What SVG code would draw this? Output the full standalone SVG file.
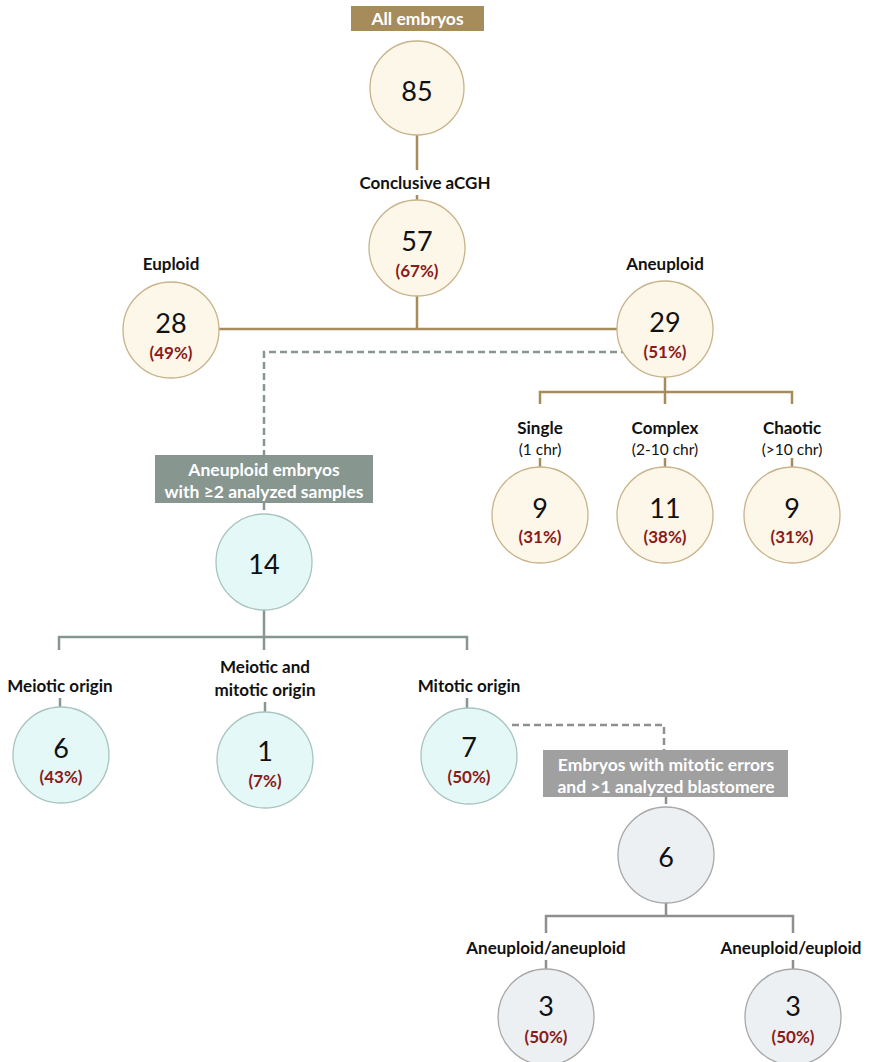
<svg xmlns="http://www.w3.org/2000/svg" width="871" height="1062" viewBox="0 0 871 1062">
<style>
.gold{stroke:#a68c5a;stroke-width:2.5;fill:none}
.teal{stroke:#87968f;stroke-width:2.5;fill:none}
.grey{stroke:#8f8f8f;stroke-width:2.5;fill:none}
.dteal{stroke:#87968f;stroke-width:2.5;fill:none;stroke-dasharray:7 4}
.dgrey{stroke:#8f8f8f;stroke-width:2.5;fill:none;stroke-dasharray:7 4}
.cg{fill:#fdf7ea;stroke:#c8b38b;stroke-width:1.3}
.ct{fill:#e3f8f7;stroke:#a9c4bf;stroke-width:1.3}
.cy{fill:#edf0f3;stroke:#a8a8a8;stroke-width:1.3}
.num{font-family:Lato,"Open Sans",sans-serif;font-size:27px;fill:#111;text-anchor:middle}
.pct{font-family:Lato,"Open Sans",sans-serif;font-size:17px;font-weight:bold;fill:#8b1a1a;text-anchor:middle}
.lbl{font-family:Lato,"Open Sans",sans-serif;font-size:17px;font-weight:bold;fill:#111;text-anchor:middle}
.sub{font-family:Lato,"Open Sans",sans-serif;font-size:15.5px;fill:#111;text-anchor:middle}
.box{font-family:Lato,"Open Sans",sans-serif;font-size:17.5px;font-weight:bold;fill:#fff;text-anchor:middle}
</style>
<g id="connectors">
<line class="gold" x1="417" y1="135" x2="417" y2="170"/>
<line class="gold" x1="417" y1="195" x2="417" y2="201"/>
<path class="gold" d="M417 296 V329 M219 329 H617"/>
<path class="gold" d="M665 377 V392 M540 404 V392 H792 V404 M665 392 V404"/>
<path class="gold" d="M540 458 V467 M665 458 V467 M792 458 V467"/>
<path class="dteal" d="M628 352 H264 V455"/>
<line class="dteal" x1="264" y1="503" x2="264" y2="514"/>
<path class="teal" d="M264 610 V637 M59 650 V637 H467 V650 M264 637 V650"/>
<path class="teal" d="M60 698 V707 M265 702 V712 M467 698 V708"/>
<path class="dgrey" d="M512 725 H664 V750"/>
<line class="dgrey" x1="666" y1="797" x2="666" y2="807"/>
<path class="grey" d="M666 903 V916 M546 933 V916 H793 V933"/>
<path class="grey" d="M546 960 V969 M793 960 V969"/>
</g>
<g id="all-embryos">
<rect x="351" y="6" width="133" height="25" fill="#a68c5a"/>
<text class="box" x="417.5" y="25">All embryos</text>
</g>
<g id="n85">
<circle class="cg" cx="417" cy="88" r="47"/>
<text class="num" x="417" y="101">85</text>
</g>
<g id="conclusive">
<text class="lbl" x="425" y="189">Conclusive aCGH</text>
<circle class="cg" cx="417" cy="248" r="48"/>
<text class="num" x="417" y="251">57</text>
<text class="pct" x="417" y="277">(67%)</text>
</g>
<g id="euploid">
<text class="lbl" x="171" y="270">Euploid</text>
<circle class="cg" cx="171" cy="330" r="48"/>
<text class="num" x="171" y="333">28</text>
<text class="pct" x="171" y="359">(49%)</text>
</g>
<g id="aneuploid">
<text class="lbl" x="665" y="270">Aneuploid</text>
<circle class="cg" cx="665" cy="329" r="48"/>
<text class="num" x="665" y="332">29</text>
<text class="pct" x="665" y="358">(51%)</text>
</g>
<g id="single">
<text class="lbl" x="540" y="434">Single</text>
<text class="sub" x="540" y="455">(1 chr)</text>
<circle class="cg" cx="540" cy="515" r="48"/>
<text class="num" x="540" y="518">9</text>
<text class="pct" x="540" y="543">(31%)</text>
</g>
<g id="complex">
<text class="lbl" x="665" y="434">Complex</text>
<text class="sub" x="665" y="455">(2-10 chr)</text>
<circle class="cg" cx="665" cy="515" r="48"/>
<text class="num" x="665" y="518">11</text>
<text class="pct" x="665" y="543">(38%)</text>
</g>
<g id="chaotic">
<text class="lbl" x="792" y="434">Chaotic</text>
<text class="sub" x="792" y="455">(&gt;10 chr)</text>
<circle class="cg" cx="792" cy="515" r="48"/>
<text class="num" x="792" y="518">9</text>
<text class="pct" x="792" y="543">(31%)</text>
</g>
<g id="multi-sample">
<rect x="155" y="455" width="218" height="48" fill="#87968f"/>
<text class="box" x="264" y="476">Aneuploid embryos</text>
<text class="box" x="264" y="498">with ≥2 analyzed samples</text>
<circle class="ct" cx="264" cy="562" r="48"/>
<text class="num" x="264" y="574">14</text>
</g>
<g id="meiotic">
<text class="lbl" x="60" y="692">Meiotic origin</text>
<circle class="ct" cx="61" cy="755" r="48"/>
<text class="num" x="61" y="758">6</text>
<text class="pct" x="61" y="783">(43%)</text>
</g>
<g id="meiotic-mitotic">
<text class="lbl" x="265" y="673">Meiotic and</text>
<text class="lbl" x="265" y="696">mitotic origin</text>
<circle class="ct" cx="265" cy="760" r="48"/>
<text class="num" x="265" y="761">1</text>
<text class="pct" x="265" y="787">(7%)</text>
</g>
<g id="mitotic">
<text class="lbl" x="469" y="692">Mitotic origin</text>
<circle class="ct" cx="469" cy="756" r="48"/>
<text class="num" x="469" y="757">7</text>
<text class="pct" x="469" y="783">(50%)</text>
</g>
<g id="mitotic-errors">
<rect x="543" y="750" width="245" height="47" fill="#a0a0a0"/>
<text class="box" x="666" y="771">Embryos with mitotic errors</text>
<text class="box" x="666" y="793">and &gt;1 analyzed blastomere</text>
<circle class="cy" cx="666" cy="855" r="48"/>
<text class="num" x="666" y="867">6</text>
</g>
<g id="aneu-aneu">
<text class="lbl" x="546" y="954">Aneuploid/aneuploid</text>
<circle class="cy" cx="546" cy="1017" r="48"/>
<text class="num" x="546" y="1016">3</text>
<text class="pct" x="546" y="1043">(50%)</text>
</g>
<g id="aneu-eu">
<text class="lbl" x="791" y="954">Aneuploid/euploid</text>
<circle class="cy" cx="793" cy="1017" r="48"/>
<text class="num" x="793" y="1016">3</text>
<text class="pct" x="793" y="1043">(50%)</text>
</g>
</svg>
